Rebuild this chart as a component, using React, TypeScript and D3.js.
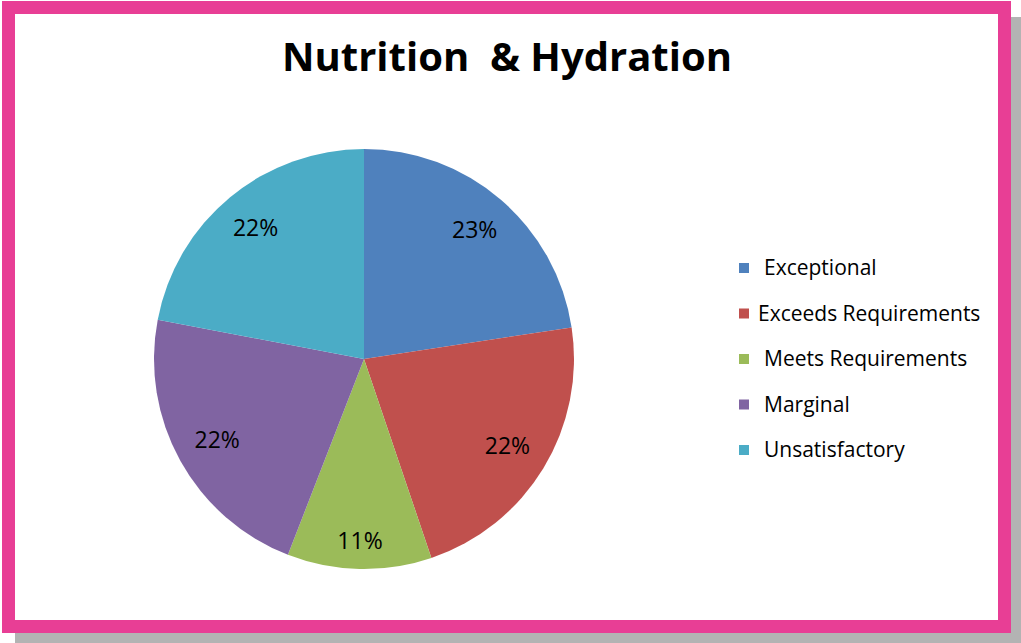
import React from "react";
import * as d3 from "d3";

const categories = ["Exceptional", "Exceeds Requirements", "Meets Requirements", "Marginal", "Unsatisfactory"];
const values = [22.6, 22.2, 11.1, 22.1, 22.0];
const colors = ["#4F81BD", "#C0504D", "#9BBB59", "#8064A2", "#4BACC6"];
const title = "Nutrition\u00a0\u00a0& Hydration";

export default function App() {
  const W = 1021, H = 643;
  const cx = 364, cy = 359, r = 210;
  const pie = d3.pie<number>().sort(null).value((d) => d)(values);
  const arc = d3.arc<d3.PieArcDatum<number>>().innerRadius(0).outerRadius(r);
  const total = d3.sum(values);
  const legendY = d3.scalePoint<string>().domain(categories).range([268, 450]);
  const font = "Open Sans, DejaVu Sans, sans-serif";
  // "inside end" label placement: label box touches an inner circle
  const boxW = 50, boxH = 26, inner = r - 14;
  return (
    <svg width={W} height={H} style={{ position: "absolute", left: 0, top: 0 }}>
      <rect x={0} y={0} width={W} height={H} fill="#fff" />
      <rect x={15} y={17} width={1006} height={626} fill="#b3b3b3" />
      <rect x={8.5} y={7.5} width={996} height={619} fill="#fff" stroke="#E83E95" strokeWidth={13} />
      <text x={507} y={71} textAnchor="middle" fontFamily={font} fontWeight="bold" fontSize={40} fill="#000">{title}</text>
      <g transform={`translate(${cx},${cy})`}>
        {pie.map((p, i) => (
          <path key={i} d={arc(p) || ""} fill={colors[i]} />
        ))}
        {pie.map((p, i) => {
          const a = (p.startAngle + p.endAngle) / 2;
          const ux = Math.sin(a), uy = -Math.cos(a);
          const ext = Math.abs(ux) * boxW / 2 + Math.abs(uy) * boxH / 2;
          const d = inner - ext;
          return (
            <text key={"l" + i} x={ux * d} y={uy * d} dy="0.35em" textAnchor="middle" fontFamily={font} fontSize={23} fill="#000">
              {Math.round((p.data / total) * 100) + "%"}
            </text>
          );
        })}
      </g>
      {categories.map((c, i) => (
        <g key={c} transform={`translate(0,${legendY(c)})`}>
          <rect x={739} y={-5} width={10} height={10} fill={colors[i]} />
          <text x={i === 1 ? 758 : 764} y={0} dy="0.35em" fontFamily={font} fontSize={21} fill="#000">{c}</text>
        </g>
      ))}
    </svg>
  );
}
